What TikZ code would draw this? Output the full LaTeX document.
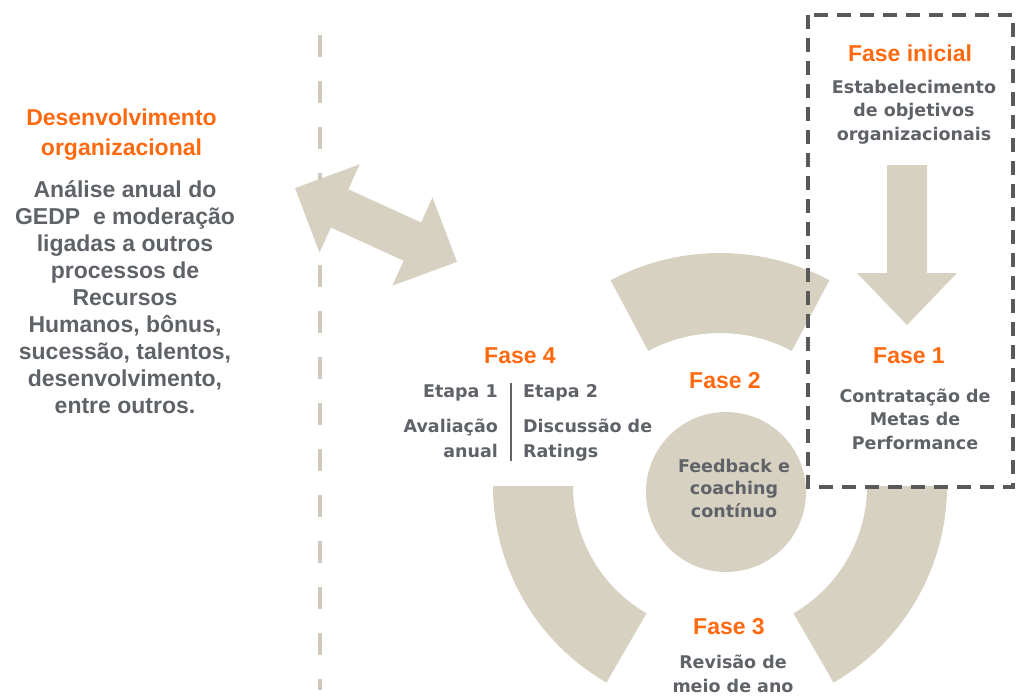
\documentclass[tikz,border=0pt]{standalone}
\usepackage{fontspec}
\setmainfont{Liberation Sans}
\newfontfamily\smallsans{DejaVu Sans}

\definecolor{phaseorange}{HTML}{FF6A10}
\definecolor{textgray}{HTML}{5F6368}
\definecolor{sand}{HTML}{D7D1C2}
\definecolor{boxgray}{HTML}{595959}
\definecolor{linesand}{HTML}{CDC8BA}

\tikzset{
  phase/.style = {text=phaseorange, font=\bfseries\fontsize{23}{30}\selectfont, align=center, inner sep=0pt, anchor=base},
  bigtext/.style = {text=textgray, font=\bfseries\fontsize{23}{27}\selectfont, align=center, inner sep=0pt, anchor=base},
  smalltext/.style = {text=textgray, font=\smallsans\bfseries\fontsize{17.5}{23.5}\selectfont, align=center, inner sep=0pt, anchor=base},
  segment/.style = {fill=sand},
}

\begin{document}
\begin{tikzpicture}[x=1pt,y=-1pt]
  \useasboundingbox (0,0) rectangle (1017,698);

  % divider between the two halves
  \draw[linesand, line width=4pt, dash pattern=on 22pt off 24pt] (320,35) -- (320,690);

  % cycle ring
  \coordinate (ring) at (720,486);
  \fill[segment, shift={(ring)}] (-62:233) arc[start angle=-62, end angle=-118, radius=233]
    -- (-118:153) arc[start angle=-118, end angle=-62, radius=153] -- cycle;
  \fill[segment, shift={(ring)}] (0:227) arc[start angle=0, end angle=60, radius=227]
    -- (60:147) arc[start angle=60, end angle=0, radius=147] -- cycle;
  \fill[segment, shift={(ring)}] (180:227) arc[start angle=180, end angle=120, radius=227]
    -- (120:147) arc[start angle=120, end angle=180, radius=147] -- cycle;
  \node[circle, fill=sand, minimum size=160pt, inner sep=0pt] (hub) at (726,492) {};

  % arrows
  \fill[sand] (887,165) -- (927,165) -- (927,273) -- (957,273) -- (907,325) -- (857,273) -- (887,273) -- cycle;
  \fill[sand, shift={(376,225)}, rotate=-24.5] (-89,0) -- (-40,-48.5) -- (-40,-21) -- (40,-21) -- (40,-48.5)
    -- (89,0) -- (40,48.5) -- (40,21) -- (-40,21) -- (-40,48.5) -- cycle;

  % initial phase frame
  \draw[boxgray, line width=3.5pt, dash pattern=on 14pt off 9pt] (808,15) rectangle (1013,487);

  % left column (multi-line nodes sit on their last baseline)
  \node[phase] (devtitle) at (121.5,155) {Desenvolvimento\\organizacional};
  \node[bigtext] (devtext) at (125,413) {Análise anual do\\GEDP\ \ e moderação\\ligadas a outros\\processos de\\Recursos\\Humanos, bônus,\\sucessão, talentos,\\desenvolvimento,\\entre outros.};

  % phases
  \node[phase] (initial) at (910,62) {Fase inicial};
  \node[smalltext] (goals) at (914,140) {Estabelecimento\\de objetivos\\organizacionais};
  \node[phase] (phase1) at (909,363) {Fase 1};
  \node[smalltext] (contract) at (915,449) {Contratação de\\Metas de\\Performance};

  \node[phase] (phase4) at (520,363) {Fase 4};
  \node[smalltext, anchor=base east] (step1) at (498,397) {Etapa 1};
  \node[smalltext, anchor=base west] (step2) at (523,397) {Etapa 2};
  \node[smalltext, align=right, anchor=base east, font=\smallsans\bfseries\fontsize{17.5}{25}\selectfont] (rating1) at (498,457) {Avaliação\\anual};
  \node[smalltext, align=left, anchor=base west, font=\smallsans\bfseries\fontsize{17.5}{25}\selectfont] (rating2) at (523,457) {Discussão de\\Ratings};
  \draw[textgray, line width=1.5pt] (511,383) -- (511,461);

  \node[phase] (phase2) at (725,388) {Fase 2};
  \node[smalltext, font=\smallsans\bfseries\fontsize{17.5}{22.5}\selectfont] (feedback) at (734,517) {Feedback e\\coaching\\contínuo};
  \node[phase] (phase3) at (729,634) {Fase 3};
  \node[smalltext] (midyear) at (733,692) {Revisão de\\meio de ano};
\end{tikzpicture}
\end{document}
